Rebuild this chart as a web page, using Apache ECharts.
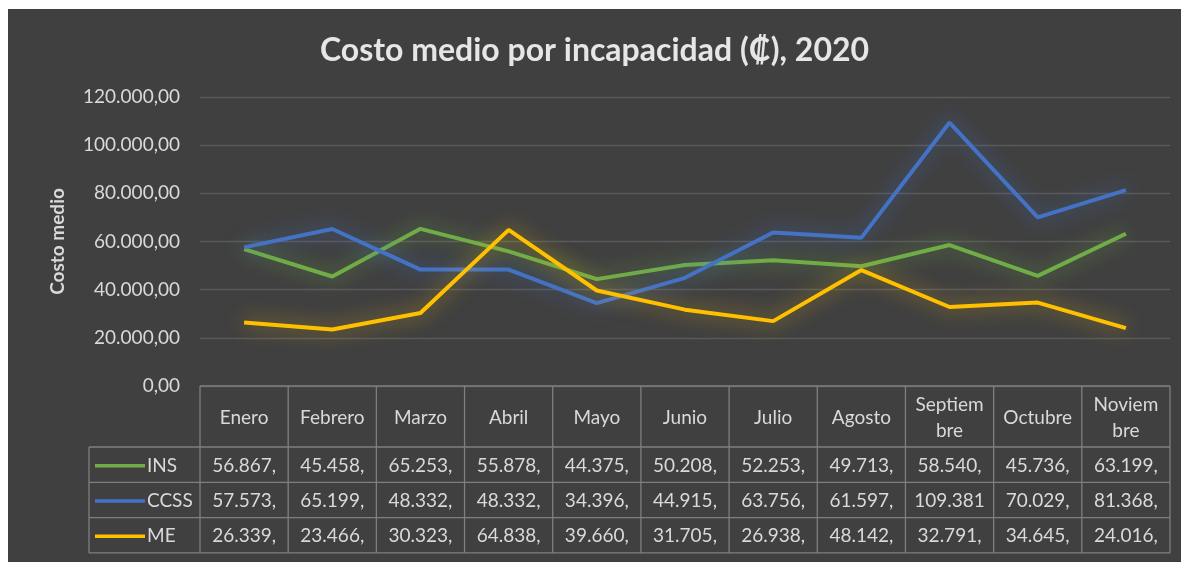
<!DOCTYPE html>
<html>
<head>
<meta charset="utf-8">
<title>Costo medio por incapacidad</title>
<style>
	html, body { margin: 0; padding: 0; background: #ffffff; }
	#box { position: absolute; left: 8px; top: 9px; width: 1173px; height: 553px; }
</style>
</head>
<body>
	<div id="box"></div>
<script src="https://cdn.jsdelivr.net/npm/echarts@6/dist/echarts.min.js"></script>
<script>
	// datos
	var meses = ['Enero', 'Febrero', 'Marzo', 'Abril', 'Mayo', 'Junio', 'Julio', 'Agosto', 'Septiembre', 'Octubre', 'Noviembre'];
	// como se ve en la cabecera de la tabla (Excel corta las palabras largas)
	var cabecera = ['Enero', 'Febrero', 'Marzo', 'Abril', 'Mayo', 'Junio', 'Julio', 'Agosto', 'Septiem\nbre', 'Octubre', 'Noviem\nbre'];
	var ins = [56867, 45458, 65253, 55878, 44375, 50208, 52253, 49713, 58540, 45736, 63199];
	var ccss = [57573, 65199, 48332, 48332, 34396, 44915, 63756, 61597, 109381, 70029, 81368];
	var me = [26339, 23466, 30323, 64838, 39660, 31705, 26938, 48142, 32791, 34645, 24016];
	var yTicks = [0, 20000, 40000, 60000, 80000, 100000, 120000];

	var series = [
		{ name: 'INS', data: ins, color: '#70ad47', glow: 'rgba(112,173,71,0.8)' },
		{ name: 'CCSS', data: ccss, color: '#4472c4', glow: 'rgba(68,114,196,0.8)' },
		{ name: 'ME', data: me, color: '#ffc000', glow: 'rgba(255,192,0,0.65)' }
	];

	var fuente = 'Lato, "DejaVu Sans", sans-serif';
	var texto = '#d9d9d9';

	// 56867 -> "56.867,"  (la celda corta el texto a 7 caracteres)
	function celda(v) {
		var miles = Math.floor(v / 1000);
		var resto = String(v % 1000);
		while (resto.length < 3) resto = '0' + resto;
		return (miles + '.' + resto + ',').slice(0, 7);
	}
	function etiquetaY(v) {
		var s = String(Math.round(v));
		s = s.replace(/\B(?=(\d{3})+(?!\d))/g, '.');
		return s + ',00';
	}

	var dom = document.getElementById('box');
	var myChart = echarts.init(dom);

	myChart.setOption({
		backgroundColor: '#404040',
		animation: false,
		title: {
			text: 'Costo medio por incapacidad (₡), 2020',
			left: 'center',
			top: 21,
			textStyle: { color: '#e6e6e6', fontFamily: fuente, fontSize: 32, fontWeight: 'bold' }
		},
		grid: { left: 192, right: 11, top: 88, bottom: 176 },
		xAxis: {
			type: 'category',
			data: meses,
			boundaryGap: true,
			axisLine: { show: false },
			axisTick: { show: false },
			axisLabel: { show: false }
		},
		yAxis: {
			type: 'value',
			min: 0,
			max: yTicks[yTicks.length - 1],
			interval: yTicks[1] - yTicks[0],
			name: 'Costo medio',
			nameLocation: 'middle',
			nameGap: 133,
			nameTextStyle: { color: texto, fontFamily: fuente, fontSize: 19, fontWeight: 'bold' },
			axisLine: { show: false },
			axisTick: { show: false },
			axisLabel: { color: texto, fontFamily: fuente, fontSize: 19, margin: 20, formatter: etiquetaY },
			splitLine: { lineStyle: { color: '#5a5a5a', width: 1.3 } }
		},
		series: series.map(function (s) {
			return {
				name: s.name,
				type: 'line',
				data: s.data,
				symbol: 'none',
				lineStyle: { color: s.color, width: 4, shadowColor: s.glow, shadowBlur: 20 },
				itemStyle: { color: s.color },
				z: 3
			};
		})
	});

	// tabla de datos debajo del eje, alineada con las categorías
	function dibujarTabla() {
		var x0 = myChart.convertToPixel({ xAxisIndex: 0 }, 0);
		var x1 = myChart.convertToPixel({ xAxisIndex: 0 }, 1);
		var ancho = x1 - x0;
		var izq = x0 - ancho / 2;
		var der = izq + ancho * meses.length;
		var yCero = myChart.convertToPixel({ yAxisIndex: 0 }, 0);
		var altoCab = 61, altoFila = 35.3;
		var leyIzq = 81;
		var borde = { stroke: '#7f7f7f', lineWidth: 1.3 };
		var els = [];
		var yFilas = [yCero + altoCab];
		for (var r = 0; r < series.length; r++) yFilas.push(yFilas[r] + altoFila);
		var fondo = yFilas[yFilas.length - 1];

		// horizontales
		els.push({ type: 'line', shape: { x1: izq, y1: yCero, x2: der, y2: yCero }, style: borde });
		yFilas.forEach(function (y) {
			els.push({ type: 'line', shape: { x1: leyIzq, y1: y, x2: der, y2: y }, style: borde });
		});
		// verticales
		for (var c = 0; c <= meses.length; c++) {
			var xc = izq + c * ancho;
			els.push({ type: 'line', shape: { x1: xc, y1: yCero, x2: xc, y2: fondo }, style: borde });
		}
		els.push({ type: 'line', shape: { x1: leyIzq, y1: yFilas[0], x2: leyIzq, y2: fondo }, style: borde });

		// cabecera
		cabecera.forEach(function (m, i) {
			els.push({
				type: 'text',
				style: {
					x: izq + (i + 0.5) * ancho, y: yCero + altoCab / 2 + 1,
					text: m, align: 'center', verticalAlign: 'middle',
					fill: texto, font: '19px ' + fuente, lineHeight: 26
				}
			});
		});
		// filas
		series.forEach(function (s, r) {
			var yc = yFilas[r] + altoFila / 2 + 1;
			els.push({ type: 'line', shape: { x1: leyIzq + 6, y1: yc, x2: leyIzq + 56, y2: yc }, style: { stroke: s.color, lineWidth: 3.5 } });
			els.push({
				type: 'text',
				style: { x: leyIzq + 58, y: yc, text: s.name, align: 'left', verticalAlign: 'middle', fill: texto, font: '19px ' + fuente }
			});
			s.data.forEach(function (v, i) {
				els.push({
					type: 'text',
					style: {
						x: izq + (i + 0.5) * ancho, y: yc, text: celda(v),
						align: 'center', verticalAlign: 'middle', fill: texto, font: '19px ' + fuente
					}
				});
			});
		});
		myChart.setOption({ graphic: [{ type: 'group', silent: true, children: els }] });
	}
	dibujarTabla();
</script>
</body>
</html>
